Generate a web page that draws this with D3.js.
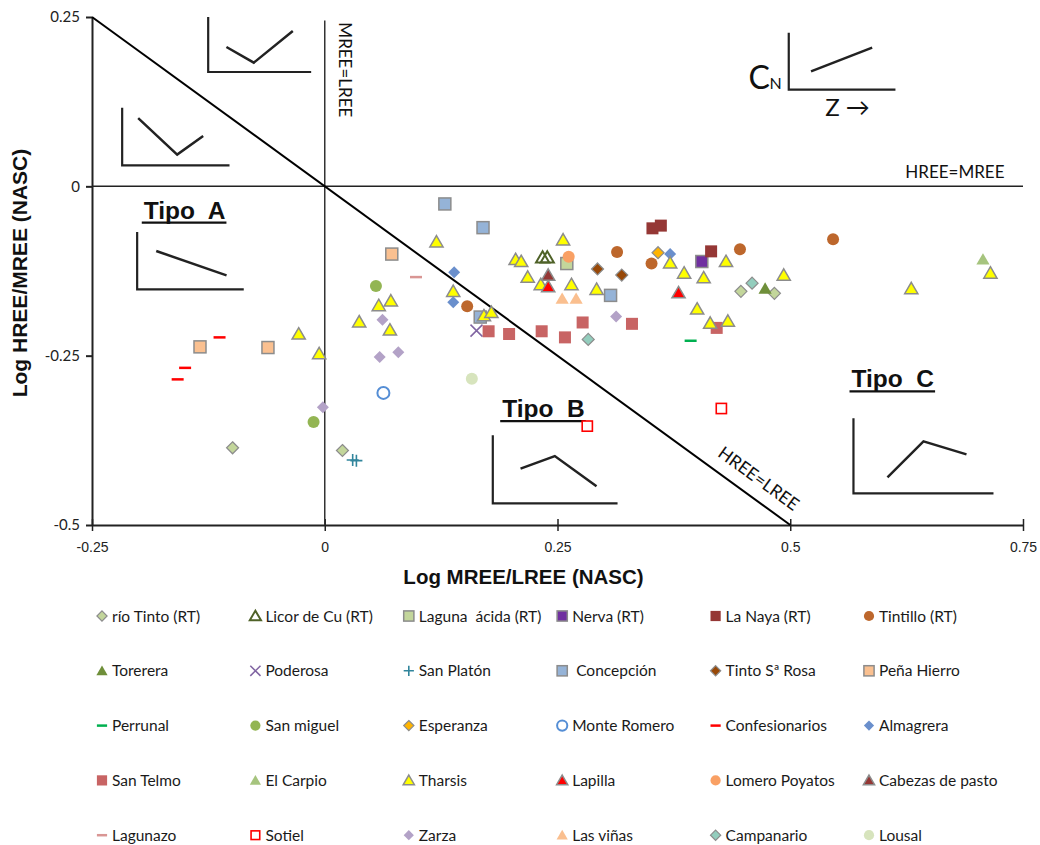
<!DOCTYPE html>
<html>
<head>
<meta charset="utf-8">
<script src="https://cdn.jsdelivr.net/npm/d3@7/dist/d3.min.js"></script>
<style>
  html, body { margin: 0; padding: 0; background: #fff; }
  svg text { white-space: pre; }
</style>
</head>
<body>
<svg id="chart" width="1040" height="845"></svg>
<script>
// ---- Axis ticks ----
const xTicks = [-0.25, 0, 0.25, 0.5, 0.75];
const yTicks = [0.25, 0, -0.25, -0.5];

// ---- Series values: [Log MREE/LREE, Log HREE/MREE] ----
const rioTinto = [[-0.099, -0.386], [0.019, -0.390], [0.447, -0.155], [0.483, -0.158]];
const licorCu = [[0.234, -0.105], [0.239, -0.105]];
const lagunaAcida = [[0.260, -0.114]];
const nerva = [[0.405, -0.111]];
const laNaya = [[0.352, -0.062], [0.361, -0.058], [0.415, -0.096]];
const tintillo = [[0.153, -0.177], [0.314, -0.097], [0.351, -0.114], [0.446, -0.093], [0.546, -0.078]];
const torerera = [[0.473, -0.151]];
const poderosa = [[0.163, -0.213]];
const sanPlaton = [[0.030, -0.404], [0.034, -0.405]];
const concepcion = [[0.129, -0.026], [0.170, -0.061], [0.167, -0.193], [0.307, -0.161]];
const tintoRosa = [[0.293, -0.122], [0.319, -0.131]];
const penaHierro = [[-0.134, -0.237], [-0.061, -0.238], [0.072, -0.100]];
const perrunal = [[0.393, -0.228]];
const sanMiguel = [[0.055, -0.147], [-0.012, -0.348]];
const esperanza = [[0.358, -0.098]];
const monteRomero = [[0.063, -0.305]];
const confesionarios = [[-0.113, -0.223], [-0.150, -0.268], [-0.158, -0.285]];
const almagrera = [[0.139, -0.127], [0.138, -0.171], [0.371, -0.100]];
const sanTelmo = [[0.176, -0.214], [0.198, -0.218], [0.233, -0.214], [0.258, -0.223],
                  [0.277, -0.201], [0.330, -0.203], [0.421, -0.209]];
const elCarpio = [[0.707, -0.108]];
const tharsis = [[-0.028, -0.218], [-0.006, -0.247], [0.037, -0.200], [0.058, -0.176],
                 [0.071, -0.169], [0.070, -0.212], [0.120, -0.082], [0.138, -0.155],
                 [0.171, -0.191], [0.179, -0.186], [0.205, -0.108], [0.211, -0.111],
                 [0.218, -0.134], [0.232, -0.145], [0.256, -0.079], [0.265, -0.145],
                 [0.292, -0.152], [0.371, -0.113], [0.386, -0.128], [0.407, -0.135],
                 [0.431, -0.111], [0.400, -0.181], [0.414, -0.202], [0.433, -0.199],
                 [0.493, -0.131], [0.630, -0.151], [0.715, -0.128]];
const lapilla = [[0.240, -0.148], [0.380, -0.157]];
const lomeroPoyatos = [[0.262, -0.104]];
const cabezasPasto = [[0.240, -0.131]];
const lagunazo = [[0.098, -0.134]];
const sotiel = [[0.282, -0.354], [0.426, -0.328]];
const zarza = [[0.062, -0.197], [0.059, -0.252], [0.079, -0.245], [-0.002, -0.326], [0.313, -0.192]];
const lasVinas = [[0.255, -0.166], [0.270, -0.166]];
const campanario = [[0.283, -0.226], [0.459, -0.143]];
const lousal = [[0.158, -0.284]];

// ---- Series names (legend order, row by row) ----
const seriesNames = [
  "río Tinto (RT)", "Licor de Cu (RT)", "Laguna  ácida (RT)", "Nerva (RT)", "La Naya (RT)", "Tintillo (RT)",
  "Torerera", "Poderosa", "San Platón", " Concepción", "Tinto Sª Rosa", "Peña Hierro",
  "Perrunal", "San miguel", "Esperanza", "Monte Romero", "Confesionarios", "Almagrera",
  "San Telmo", "El Carpio", "Tharsis", "Lapilla", "Lomero Poyatos", "Cabezas de pasto",
  "Lagunazo", "Sotiel", "Zarza", "Las viñas", "Campanario", "Lousal"
];
const seriesValues = [
  rioTinto, licorCu, lagunaAcida, nerva, laNaya, tintillo,
  torerera, poderosa, sanPlaton, concepcion, tintoRosa, penaHierro,
  perrunal, sanMiguel, esperanza, monteRomero, confesionarios, almagrera,
  sanTelmo, elCarpio, tharsis, lapilla, lomeroPoyatos, cabezasPasto,
  lagunazo, sotiel, zarza, lasVinas, campanario, lousal
];

// ---- Marker styles ----
const GREY = "#8c8c8c";
const markerStyles = [
  {shape: "diamond", fill: "#c3d69b", stroke: GREY, sw: 1.2},
  {shape: "triangle", fill: "none", stroke: "#4f6228", sw: 2},
  {shape: "square", fill: "#c3d69b", stroke: GREY, sw: 1.5},
  {shape: "square", fill: "#7030a0", stroke: GREY, sw: 1.5},
  {shape: "square", fill: "#953735", stroke: "none", sw: 0},
  {shape: "circle", fill: "#bd672c", stroke: "none", sw: 0},
  {shape: "triangle", fill: "#6f8f3a", stroke: "none", sw: 0},
  {shape: "x", fill: "none", stroke: "#8064a2", sw: 1.5},
  {shape: "plus", fill: "none", stroke: "#31859c", sw: 1.6},
  {shape: "square", fill: "#95b3d7", stroke: GREY, sw: 1.5},
  {shape: "diamond", fill: "#984807", stroke: GREY, sw: 1.2},
  {shape: "square", fill: "#fac090", stroke: GREY, sw: 1.5},
  {shape: "dash", fill: "none", stroke: "#00b050", sw: 2.5},
  {shape: "circle", fill: "#93b553", stroke: "none", sw: 0},
  {shape: "diamond", fill: "#ffb400", stroke: GREY, sw: 1.2},
  {shape: "circle", fill: "#fff", stroke: "#558ed5", sw: 2},
  {shape: "dash", fill: "none", stroke: "#ff0000", sw: 2.5},
  {shape: "diamond", fill: "#6a8fcc", stroke: "none", sw: 0},
  {shape: "square", fill: "#c86464", stroke: "none", sw: 0},
  {shape: "triangle", fill: "#a6c47e", stroke: "none", sw: 0},
  {shape: "triangle", fill: "#ffff00", stroke: GREY, sw: 1.5},
  {shape: "triangle", fill: "#ff0000", stroke: GREY, sw: 1.5},
  {shape: "circle", fill: "#f9a064", stroke: "none", sw: 0},
  {shape: "triangle", fill: "#953735", stroke: GREY, sw: 1.5},
  {shape: "dash", fill: "none", stroke: "#d99694", sw: 2.5},
  {shape: "square-sm", fill: "#fff", stroke: "#ff0000", sw: 1.6},
  {shape: "diamond", fill: "#b3a2c7", stroke: "none", sw: 0},
  {shape: "triangle", fill: "#fabf8f", stroke: "none", sw: 0},
  {shape: "diamond", fill: "#93cdbd", stroke: GREY, sw: 1.2},
  {shape: "circle", fill: "#d7e4bd", stroke: "none", sw: 0}
];

// ---- Reference lines & annotation sketches (data units) ----
const diagonalLine = [[-0.25, 0.25], [0.5, -0.5]];          // HREE = LREE
const mreeLreeLine = [[0, 0.245], [0, -0.5]];                // MREE = LREE
const hreeMreeLine = [[-0.25, 0], [0.75, 0]];                // HREE = MREE

const sketches = [
  // each: axes corner polyline and pattern polyline
  {axes: [[-0.1252, 0.25], [-0.1252, 0.1688], [-0.0146, 0.1688]],
   curve: [[-0.1056, 0.2057], [-0.0762, 0.1826], [-0.0343, 0.2293]]},
  {axes: [[-0.2176, 0.1162], [-0.2176, 0.031], [-0.1023, 0.031]],
   curve: [[-0.2004, 0.1008], [-0.1585, 0.0468], [-0.1306, 0.0743]]},
  {axes: [[-0.2015, -0.0675], [-0.2015, -0.1521], [-0.087, -0.1521]],
   curve: [[-0.181, -0.0955], [-0.1055, -0.1314]]},
  {axes: [[0.1805, -0.3676], [0.1805, -0.468], [0.3145, -0.468]],
   curve: [[0.2103, -0.4168], [0.2471, -0.3982], [0.2919, -0.4429]]},
  {axes: [[0.5679, -0.3425], [0.5679, -0.4533], [0.7183, -0.4533]],
   curve: [[0.6044, -0.4297], [0.6431, -0.3765], [0.6893, -0.3957]]},
  {axes: [[0.4984, 0.2269], [0.4984, 0.1428], [0.613, 0.1428]],
   curve: [[0.5223, 0.1698], [0.588, 0.2048]]}
];
const tipoLabels = [
  {text: "Tipo  A", pos: [-0.1944, -0.0477]},
  {text: "Tipo  B", pos: [0.1906, -0.3406]},
  {text: "Tipo  C", pos: [0.5658, -0.2968]}
];

// ---- Layout ----
const svg = d3.select("#chart");
const x = d3.scaleLinear().domain([-0.25, 0.75]).range([92, 1023]);
const y = d3.scaleLinear().domain([-0.5, 0.25]).range([525, 17]);
const line = d3.line().x(d => x(d[0])).y(d => y(d[1]));

svg.append("rect").attr("width", 1040).attr("height", 845).attr("fill", "#fff");

// Axes
const fmt = d => (d === 0 ? "0" : String(d));
const yAxis = svg.append("g")
  .attr("transform", `translate(${x(-0.25)},0)`)
  .call(d3.axisLeft(y).tickValues(yTicks).tickSize(6).tickSizeOuter(0).tickFormat(fmt));
yAxis.select(".domain").attr("stroke", "#222").attr("stroke-width", 2);
yAxis.selectAll(".tick line").attr("stroke", "#222").attr("stroke-width", 2);
yAxis.selectAll(".tick text").attr("x", -12)
  .attr("font-family", "Lato, 'Open Sans', sans-serif").attr("font-size", 15).attr("fill", "#222");

const xAxis = svg.append("g")
  .attr("transform", `translate(0,${y(-0.5)})`)
  .call(d3.axisBottom(x).tickValues(xTicks).tickSize(6).tickSizeOuter(0).tickFormat(fmt));
xAxis.select(".domain").attr("stroke", "#222").attr("stroke-width", 2);
xAxis.selectAll(".tick line").attr("y1", -6).attr("y2", 6).attr("stroke", "#222").attr("stroke-width", 1.5);
xAxis.selectAll(".tick text").attr("y", 17)
  .attr("font-family", "'Liberation Sans Narrow', 'Arial Narrow', 'Liberation Sans', sans-serif")
  .attr("font-size", 14).attr("fill", "#222");

// Axis titles
svg.append("text")
  .attr("x", x(0.2135)).attr("y", 584)
  .attr("text-anchor", "middle")
  .attr("font-family", "'Liberation Sans', Arial, sans-serif").attr("font-weight", "bold")
  .attr("font-size", 20.5).attr("fill", "#111")
  .text("Log MREE/LREE (NASC)");
svg.append("text")
  .attr("transform", `translate(27,${y(-0.128)}) rotate(-90)`)
  .attr("text-anchor", "middle")
  .attr("font-family", "'Liberation Sans', Arial, sans-serif").attr("font-weight", "bold")
  .attr("font-size", 21).attr("fill", "#111")
  .text("Log HREE/MREE (NASC)");

// Reference lines
svg.append("path").attr("d", line(hreeMreeLine)).attr("stroke", "#222").attr("stroke-width", 1.5).attr("fill", "none");
svg.append("path").attr("d", line(mreeLreeLine)).attr("stroke", "#333").attr("stroke-width", 1.5).attr("fill", "none");
svg.append("path").attr("d", line(diagonalLine)).attr("stroke", "#000").attr("stroke-width", 2).attr("fill", "none");

const annoFont = "Lato, 'Open Sans', sans-serif";
svg.append("text").attr("x", x(0.6236)).attr("y", y(0.0118))
  .attr("font-family", annoFont).attr("font-size", 17).attr("fill", "#111").text("HREE=MREE");
svg.append("text").attr("transform", `translate(${x(0.0148)},${y(0.2421)}) rotate(90)`)
  .attr("font-family", annoFont).attr("font-size", 17).attr("fill", "#111").text("MREE=LREE");
svg.append("text").attr("transform", `translate(${x(0.4210)},${y(-0.3975)}) rotate(36)`)
  .attr("font-family", annoFont).attr("font-size", 17.5).attr("fill", "#111").text("HREE=LREE");

// Sketches of normalised REE patterns
sketches.forEach(s => {
  svg.append("path").attr("d", line(s.axes)).attr("fill", "none").attr("stroke", "#222").attr("stroke-width", 2.2);
  svg.append("path").attr("d", line(s.curve)).attr("fill", "none").attr("stroke", "#222").attr("stroke-width", 2.5);
});
// C_N / Z labels on the last sketch
svg.append("text").attr("x", x(0.4551)).attr("y", y(0.1437))
  .attr("font-family", annoFont).attr("font-size", 32).attr("fill", "#111").text("C");
svg.append("text").attr("x", x(0.4778)).attr("y", y(0.1437))
  .attr("font-family", annoFont).attr("font-size", 16).attr("fill", "#111").text("N");
svg.append("text").attr("x", x(0.5375)).attr("y", y(0.1043))
  .attr("font-family", annoFont).attr("font-size", 24).attr("fill", "#111").text("Z →");

// Tipo labels (bold, underlined)
tipoLabels.forEach(t => {
  const tx = svg.append("text").attr("x", x(t.pos[0])).attr("y", y(t.pos[1]))
    .attr("font-family", "'Liberation Sans', Arial, sans-serif").attr("font-weight", "bold")
    .attr("font-size", 24.5).attr("fill", "#111").text(t.text);
  const w = tx.node().getComputedTextLength();
  svg.append("line")
    .attr("x1", x(t.pos[0]) - 2).attr("x2", x(t.pos[0]) + w + 1)
    .attr("y1", y(t.pos[1]) + 4).attr("y2", y(t.pos[1]) + 4)
    .attr("stroke", "#111").attr("stroke-width", 2.2);
});

// ---- Marker drawing ----
function drawMarker(g, st, k) {
  const r = 6 * k;
  let sel;
  switch (st.shape) {
    case "square":
      sel = g.append("rect").attr("x", -r).attr("y", -r).attr("width", 2 * r).attr("height", 2 * r); break;
    case "square-sm":
      sel = g.append("rect").attr("x", -r * 0.85).attr("y", -r * 0.85).attr("width", 1.7 * r).attr("height", 1.7 * r); break;
    case "diamond":
      sel = g.append("path").attr("d", `M0,${-r}L${r},0L0,${r}L${-r},0Z`); break;
    case "triangle":
      sel = g.append("path").attr("d", `M0,${-r * 1.05}L${r * 1.1},${r * 0.85}L${-r * 1.1},${r * 0.85}Z`); break;
    case "circle":
      sel = g.append("circle").attr("r", r); break;
    case "x":
      sel = g.append("path").attr("d", `M${-r},${-r}L${r},${r}M${-r},${r}L${r},${-r}`); break;
    case "plus":
      sel = g.append("path").attr("d", `M${-r},0L${r},0M0,${-r}L0,${r}`); break;
    case "dash":
      sel = g.append("path").attr("d", `M${-r},0L${r},0`); break;
  }
  sel.attr("fill", st.fill).attr("stroke", st.stroke).attr("stroke-width", st.sw);
}

const pointsLayer = svg.append("g");
seriesValues.forEach((vals, i) => {
  const st = markerStyles[i];
  pointsLayer.append("g").selectAll("g").data(vals).join("g")
    .attr("transform", d => `translate(${x(d[0])},${y(d[1])})`)
    .each(function () { drawMarker(d3.select(this), st, 1); });
});

// ---- Legend: 6 columns x 5 rows ----
const legend = svg.append("g");
seriesNames.forEach((name, i) => {
  const col = i % 6, row = Math.floor(i / 6);
  const lx = 102 + col * 153.4, ly = 616 + row * 54.8;
  const g = legend.append("g").attr("transform", `translate(${lx},${ly})`);
  drawMarker(g, markerStyles[i], 0.85);
  g.append("text").attr("x", 10).attr("y", 5.5)
    .attr("font-family", "Lato, 'Open Sans', sans-serif").attr("font-size", 15.5)
    .attr("fill", "#1a1a1a").text(name);
});
</script>
</body>
</html>
